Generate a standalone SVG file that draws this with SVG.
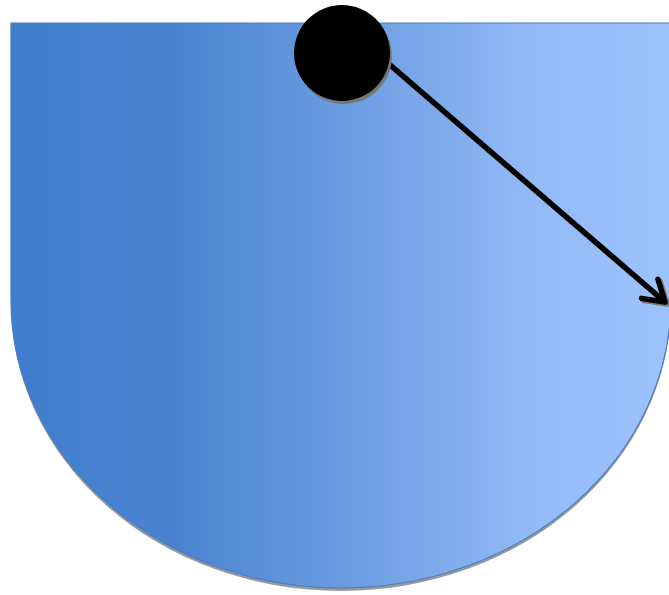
<svg xmlns="http://www.w3.org/2000/svg" width="669" height="595" viewBox="0 0 669 595">
<defs>
<linearGradient id="g" x1="0" y1="0" x2="1" y2="0">
<stop offset="0" stop-color="#3F7ECD"/>
<stop offset="0.25" stop-color="#4A84D1"/>
<stop offset="0.5" stop-color="#6A9BE0"/>
<stop offset="0.8" stop-color="#93BBF8"/>
<stop offset="1" stop-color="#9DC3FF"/>
</linearGradient>
<marker id="ah" viewBox="0 0 12 12" refX="10" refY="6" markerWidth="5.5" markerHeight="5.5" orient="auto" markerUnits="strokeWidth">
<path d="M2,1 L10,6 L2,11" fill="none" stroke="#000" stroke-width="2.2" stroke-linecap="round" stroke-linejoin="round"/>
</marker>
<marker id="ahs" viewBox="0 0 12 12" refX="10" refY="6" markerWidth="5.5" markerHeight="5.5" orient="auto" markerUnits="strokeWidth">
<path d="M2,1 L10,6 L2,11" fill="none" stroke="#777" stroke-width="2.2" stroke-linecap="round" stroke-linejoin="round"/>
</marker>
</defs>
<style>
.shadow{fill:#808080;opacity:0.8}
</style>
<g id="shape">
<path class="shadow" d="M11,26 L671,26 L671,303 A330,288 0 0 1 11,303 Z"/>
<path d="M11,23 L671,23 L671,300 A330,288 0 0 1 11,300 Z" fill="url(#g)" stroke="#4A7EC4" stroke-width="1.2"/>
</g>
<g id="connectors">
<line x1="391" y1="66" x2="667" y2="304" stroke="#777" stroke-width="5.5" marker-end="url(#ahs)"/>
<line x1="389" y1="64" x2="665" y2="302" stroke="#000" stroke-width="5.5" marker-end="url(#ah)"/>
</g>
<g id="dot">
<circle cx="344" cy="56" r="48" fill="#777"/>
<circle cx="342" cy="53" r="48" fill="#000"/>
</g>
</svg>
